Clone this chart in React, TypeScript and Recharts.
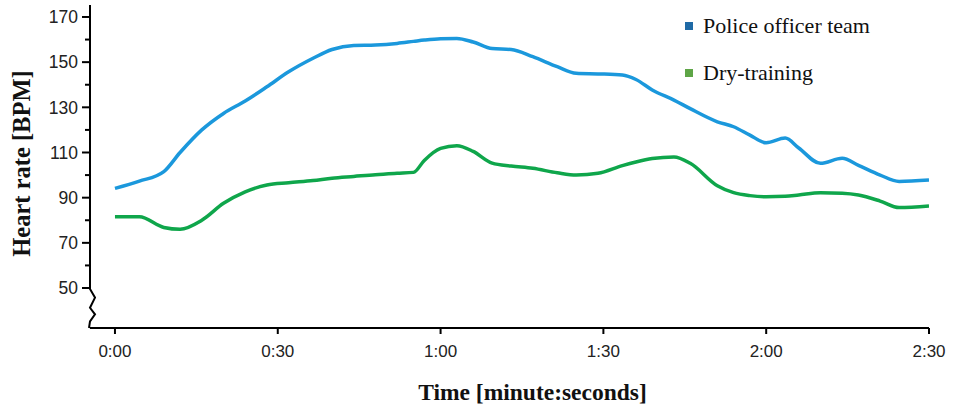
import React from 'react';
import { LineChart, Line, XAxis, YAxis, ReferenceLine, Legend, Label } from 'recharts';

// time in seconds
const times = [0, 4.5, 9, 12, 16, 20, 24, 28, 32, 36.5, 40, 44, 48, 52, 55, 57, 60, 63, 66, 69.5, 73, 77, 81.5, 85, 89, 93.5, 96, 99, 103, 106, 111, 114, 117, 120, 123.5, 126, 130, 134, 137, 141, 144.5, 150];
const policeTeam = [94.1, 97.3, 101.5, 110, 120, 127.3, 132.8, 139.1, 145.7, 151.7, 155.6, 157.4, 157.6, 158.3, 159.2, 159.8, 160.4, 160.5, 158.9, 156, 155.6, 152.4, 148, 145.1, 144.8, 144.3, 142.3, 137.7, 133.2, 129.4, 123.6, 121.4, 117.7, 114.3, 116.4, 112, 105.2, 107.4, 104.3, 100, 97.2, 97.8];
const dryTraining = [81.5, 81.5, 76.8, 76, 80, 87.5, 92.6, 95.6, 96.6, 97.6, 98.6, 99.4, 100.2, 100.8, 101.2, 106.5, 111.8, 113, 110.5, 105.3, 104, 103, 101, 100, 100.8, 104.2, 105.8, 107.3, 108, 105.2, 95.3, 92.2, 90.9, 90.4, 90.6, 91.2, 92.2, 92, 91.2, 88.5, 85.6, 86.3];

const seriesNames = ['Police officer team', 'Dry-training'];
const lineColors = ['#1b98dc', '#0fa64b'];
const legendColors = ['#1f6aa6', '#5ea546'];

const xTicks = [0, 30, 60, 90, 120, 150];
const yTicks = [50, 60, 70, 80, 90, 100, 110, 120, 130, 140, 150, 160, 170];
const yLabelled = [50, 70, 90, 110, 130, 150, 170];

const X_MIN = -4.6;
const X_MAX = 150;
const Y_MIN = 32.3;
const Y_MAX = 175.3;
const BREAK_VALUE = 50;

const data = times.map((t, i) => ({ t, police: policeTeam[i], dry: dryTraining[i] }));

const fmt = (s: number) => `${Math.floor(s / 60)}:${String(Math.round(s % 60)).padStart(2, '0')}`;

const sans = '"Liberation Sans", Arial, sans-serif';
const serif = '"Liberation Serif", "Times New Roman", serif';

const YTick = (props: any) => {
  const { x, y, payload } = props;
  const v = payload.value;
  const major = yLabelled.includes(v);
  return (
    <g>
      <line x1={major ? x : x + 3} x2={x + 8} y1={y} y2={y} stroke="#000" strokeWidth={2} />
      {major && (
        <text x={x - 4} y={y} dy="0.36em" textAnchor="end" fontSize={17.5} fill="#222" fontFamily={sans}>
          {v}
        </text>
      )}
    </g>
  );
};

const AxisBreak = (p: any) => {
  const x = p.x1;
  const top = Math.min(p.y1, p.y2);
  const bot = Math.max(p.y1, p.y2);
  const yb = top + ((Y_MAX - BREAK_VALUE) / (Y_MAX - Y_MIN)) * (bot - top) + 1;
  const h = bot - yb;
  const d = `M${x},${top} L${x},${yb} L${x + 5},${yb + h * 0.22} L${x},${yb + h * 0.48} L${x + 5},${yb + h * 0.65} L${x},${yb + h * 0.83} L${x - 1},${bot}`;
  return <path d={d} fill="none" stroke="#000" strokeWidth={2} strokeLinejoin="miter" />;
};

const YTitle = (props: any) => {
  const vb = props.viewBox;
  const cx = vb.x + 21;
  const cy = vb.y + vb.height / 2 - 3;
  return (
    <text
      transform={`translate(${cx},${cy}) rotate(-90)`}
      textAnchor="middle"
      dominantBaseline="central"
      fontFamily={serif}
      fontWeight="bold"
      fontSize={24.5}
      fill="#111"
    >
      Heart rate [BPM]
    </text>
  );
};

const LegendContent = () => (
  <div style={{ fontFamily: serif, fontSize: 22, color: '#111' }}>
    {seriesNames.map((n, i) => (
      <div key={n} style={{ display: 'flex', alignItems: 'center', height: 47, whiteSpace: 'nowrap' }}>
        <span style={{ display: 'inline-block', width: 8, height: 8, background: legendColors[i], marginRight: 10 }} />
        <span>{n}</span>
      </div>
    ))}
  </div>
);

export default function App() {
  return (
    <div style={{ position: 'absolute', left: 0, top: 0, background: '#fff' }}>
      <LineChart
        width={956}
        height={407}
        data={data}
        margin={{ top: 5, right: 27, bottom: 0, left: 0 }}
        style={{ fontFamily: sans }}
      >
        <XAxis
          dataKey="t"
          type="number"
          domain={[X_MIN, X_MAX]}
          allowDataOverflow
          ticks={xTicks}
          interval={0}
          tickFormatter={fmt}
          axisLine={{ stroke: '#000', strokeWidth: 2 }}
          tickLine={{ stroke: '#000', strokeWidth: 2 }}
          tickSize={6}
          tickMargin={11}
          tick={{ fontSize: 17, fill: '#222', fontFamily: sans }}
          height={79}
        >
          <Label
            value="Time [minute:seconds]"
            position="insideBottom"
            offset={7}
            dx={23}
            style={{ fontFamily: serif, fontWeight: 'bold', fontSize: 23.5, fill: '#111' }}
          />
        </XAxis>
        <YAxis
          type="number"
          domain={[Y_MIN, Y_MAX]}
          allowDataOverflow
          ticks={yTicks}
          interval={0}
          axisLine={false}
          tickLine={false}
          tickSize={8}
          tickMargin={0}
          tick={<YTick />}
          width={90}
        >
          <Label content={<YTitle />} />
        </YAxis>
        <ReferenceLine x={X_MIN} stroke="#000" strokeWidth={2} shape={<AxisBreak />} />
        <Legend
          layout="vertical"
          align="center"
          verticalAlign="middle"
          content={<LegendContent />}
          wrapperStyle={{ position: 'absolute', left: 685, top: 2, width: 'auto', height: 'auto' }}
        />
        <Line
          type="monotone"
          dataKey="police"
          name={seriesNames[0]}
          stroke={lineColors[0]}
          strokeWidth={3.5}
          dot={false}
          isAnimationActive={false}
        />
        <Line
          type="monotone"
          dataKey="dry"
          name={seriesNames[1]}
          stroke={lineColors[1]}
          strokeWidth={3.5}
          dot={false}
          isAnimationActive={false}
        />
      </LineChart>
    </div>
  );
}
